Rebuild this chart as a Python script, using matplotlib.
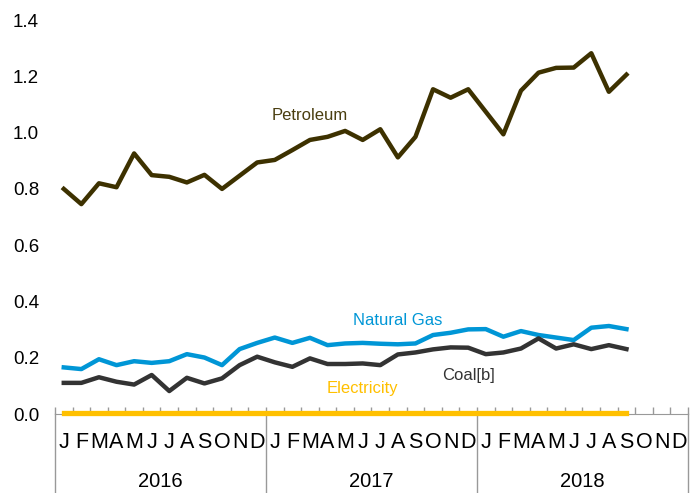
import matplotlib
matplotlib.use('Agg')
import matplotlib.pyplot as plt
import matplotlib.transforms as mtransforms
import numpy as np

# Monthly values, Jan 2016 - Sep 2018
petroleum = [0.80, 0.746, 0.82, 0.806, 0.926, 0.849, 0.843, 0.823, 0.850, 0.80, 0.847, 0.894,
             0.903, 0.938, 0.974, 0.985, 1.006, 0.974, 1.012, 0.912, 0.985, 1.154, 1.124, 1.154,
             1.074, 0.994, 1.149, 1.213, 1.230, 1.231, 1.282, 1.145, 1.206]
natural_gas = [0.166, 0.160, 0.195, 0.174, 0.188, 0.182, 0.188, 0.213, 0.201, 0.174, 0.231, 0.253,
               0.272, 0.253, 0.271, 0.245, 0.251, 0.253, 0.250, 0.248, 0.251, 0.281, 0.289, 0.301,
               0.302, 0.275, 0.295, 0.281, 0.272, 0.263, 0.307, 0.313, 0.302]
coal = [0.111, 0.111, 0.131, 0.115, 0.105, 0.139, 0.082, 0.129, 0.109, 0.127, 0.174, 0.204,
        0.184, 0.168, 0.198, 0.178, 0.178, 0.180, 0.174, 0.212, 0.219, 0.230, 0.237, 0.236,
        0.213, 0.219, 0.233, 0.269, 0.233, 0.248, 0.231, 0.245, 0.231]
electricity = [0.003] * 33

month_letters = ['J', 'F', 'M', 'A', 'M', 'J', 'J', 'A', 'S', 'O', 'N', 'D']
years = ['2016', '2017', '2018']
y_ticks = [0.0, 0.2, 0.4, 0.6, 0.8, 1.0, 1.2, 1.4]

plt.rcParams['font.family'] = ['Liberation Sans', 'DejaVu Sans']

fig = plt.figure(figsize=(6.96, 4.93), dpi=100)
ax = fig.add_axes([0.079, 0.160, 0.9095, 0.7994])

x = np.arange(len(petroleum))
ax.plot(x, petroleum, color='#3D3100', lw=3.2)
ax.plot(x, natural_gas, color='#0096D6', lw=3.2)
ax.plot(x, coal, color='#333333', lw=3.2)
ax.plot(x, electricity, color='#FFC000', lw=3.8, zorder=5, clip_on=False)

ax.text(14, 1.06, 'Petroleum', color='#4A3E10', fontsize=12, ha='center', va='center')
ax.text(19, 0.334, 'Natural Gas', color='#0096D6', fontsize=12, ha='center', va='center')
ax.text(23, 0.136, 'Coal[b]', color='#333333', fontsize=12, ha='center', va='center')
ax.text(17, 0.092, 'Electricity', color='#FFC000', fontsize=12, ha='center', va='center')

n_months = 12 * len(years)
ax.set_xlim(-0.5, n_months - 0.5)
ax.set_ylim(0, 1.4)
ax.set_yticks(y_ticks)
ax.set_yticklabels(['%.1f' % v for v in y_ticks], fontsize=13.5)
ax.tick_params(axis='y', length=0, pad=11.5)

ax.set_xticks(np.arange(n_months))
ax.set_xticklabels(month_letters * len(years), fontsize=15.5)
ax.tick_params(axis='x', which='major', length=0, pad=13)
ax.set_xticks(np.arange(n_months + 1) - 0.5, minor=True)
ax.tick_params(axis='x', which='minor', direction='in', length=5, color='#999999', width=1)

for s in ['top', 'right', 'left']:
    ax.spines[s].set_visible(False)
ax.spines['bottom'].set_color('#999999')

trans = mtransforms.blended_transform_factory(ax.transData, ax.transAxes)
for i in range(len(years) + 1):
    ax.plot([12 * i - 0.5, 12 * i - 0.5], [0, -0.21], transform=trans,
            color='#999999', lw=1, clip_on=False)
for i, yr in enumerate(years):
    ax.text(12 * i + 5.5, -0.170, yr, transform=trans, ha='center', va='center',
            fontsize=14.5)

fig.savefig('out.png', dpi=100)
